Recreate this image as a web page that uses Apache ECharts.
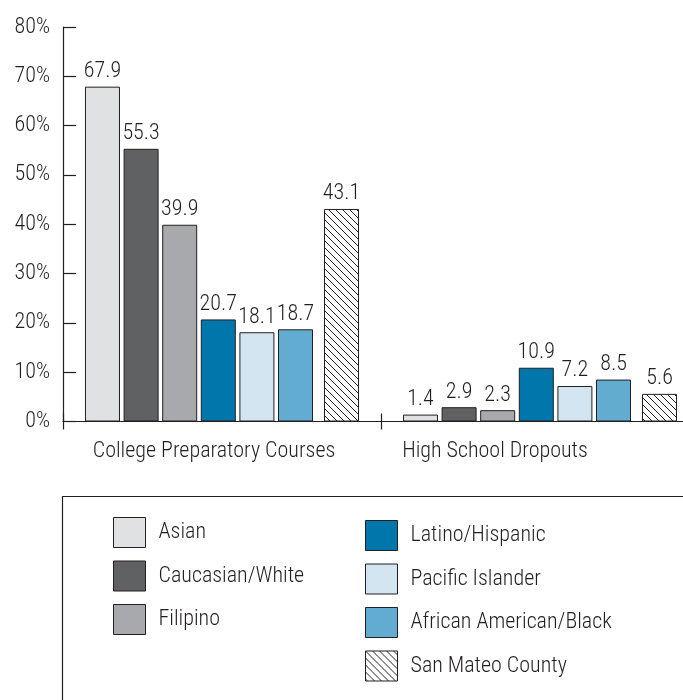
<!DOCTYPE html>
<html><head><meta charset="utf-8">
<script src="https://cdn.jsdelivr.net/npm/echarts@6/dist/echarts.min.js"></script>
<style>html,body{margin:0;padding:0;background:#fff}#c{width:683px;height:700px}</style>
</head><body><div id="c"></div>
<script>
const categories = ['College Preparatory Courses', 'High School Dropouts'];
const asian = [67.9, 1.4];
const caucasian = [55.3, 2.9];
const filipino = [39.9, 2.3];
const latino = [20.7, 10.9];
const pacific = [18.1, 7.2];
const african = [18.7, 8.5];
const sanMateo = [43.1, 5.6];
const seriesNames = ['Asian', 'Caucasian/White', 'Filipino', 'Latino/Hispanic', 'Pacific Islander', 'African American/Black', 'San Mateo County'];
const yMin = 0, yMax = 80, yStep = 10;

const FONT = "'Roboto Condensed', 'Liberation Sans', sans-serif";
const FS = 22;
const FW = 300;
const INK = '#231f20';

// hatch pattern
const pc = document.createElement('canvas');
pc.width = 7; pc.height = 7;
const g = pc.getContext('2d');
g.fillStyle = '#fff'; g.fillRect(0, 0, 7, 7);
g.strokeStyle = INK; g.lineWidth = 1;
g.beginPath();
g.moveTo(0, 0); g.lineTo(7, 7);
g.moveTo(-1, 6); g.lineTo(1, 8);
g.moveTo(6, -1); g.lineTo(8, 1);
g.stroke();
const hatch = { image: pc, repeat: 'repeat' };

const colors = ['#e0e1e3', '#606163', '#a7a9ac', '#0076ab', '#d3e5f1', '#63acd1', hatch];
const values = [asian, caucasian, filipino, latino, pacific, african, sanMateo];

const BW = 35, GAP = '10.3%';
function barSeries(i) {
  return {
    name: seriesNames[i], type: 'bar', data: values[i],
    barWidth: BW, barGap: GAP,
    itemStyle: { color: colors[i], borderColor: INK, borderWidth: 1 },
    label: { show: true, position: 'top', distance: 4, color: INK, fontFamily: FONT, fontSize: FS, fontWeight: FW,
      formatter: p => p.value.toFixed(1) },
    emphasis: { disabled: true }
  };
}
const series = [];
for (let i = 0; i < 6; i++) series.push(barSeries(i));
series.push({ name: 'spacer', type: 'bar', data: [null, null], barWidth: 6.7, barGap: GAP, silent: true });
series.push(barSeries(6));

const chart = echarts.init(document.getElementById('c'), null, { renderer: 'canvas' });
const legendCommon = {
  orient: 'vertical', icon: 'rect', itemWidth: 32, itemHeight: 30, itemGap: 12.5, padding: 0,
  textStyle: { fontFamily: FONT, fontSize: FS, fontWeight: FW, color: INK, padding: [0, 0, 0, 8] },
  selectedMode: false, itemStyle: { borderColor: INK, borderWidth: 1 }
};
chart.setOption({
  animation: false,
  backgroundColor: '#fff',
  grid: { left: 63, width: 636, top: 27, bottom: 278.5, containLabel: false, outerBoundsMode: 'none' },
  xAxis: [{
    type: 'category', data: categories, position: 'bottom',
    axisLine: { lineStyle: { color: INK, width: 1.2 } },
    axisTick: { show: true, length: 8, lineStyle: { color: INK, width: 1.2 } },
    axisLabel: {
      interval: 0, margin: 19, color: INK, fontFamily: FONT, fontSize: FS, fontWeight: FW,
      formatter: (v, i) => i === 0 ? '{a|' + v + '}' : '{b|' + v + '}',
      rich: {
        a: { fontFamily: FONT, fontSize: FS, fontWeight: FW, color: INK, padding: [0, 16, 0, 0] },
        b: { fontFamily: FONT, fontSize: FS, fontWeight: FW, color: INK, padding: [0, 90, 0, 0] }
      }
    }
  }, {
    type: 'category', data: categories, position: 'bottom', gridIndex: 0,
    axisLine: { show: false },
    axisTick: { show: true, inside: true, length: 8, lineStyle: { color: INK, width: 1.2 } },
    axisLabel: { show: false }
  }],
  yAxis: {
    type: 'value', min: yMin, max: yMax, interval: yStep,
    axisLine: { show: true, lineStyle: { color: INK, width: 1.2 } },
    axisTick: { show: true, inside: true, length: 13, lineStyle: { color: INK, width: 1.2 } },
    splitLine: { show: false },
    axisLabel: { margin: 13, color: INK, fontFamily: FONT, fontSize: FS, fontWeight: FW, formatter: '{value}%', padding: [0, 0, 4, 0] }
  },
  legend: [
    Object.assign({ left: 113, top: 517, data: seriesNames.slice(0, 3) }, legendCommon),
    Object.assign({ left: 365, top: 520, data: seriesNames.slice(3) }, legendCommon)
  ],
  graphic: [{
    type: 'rect', shape: { x: 62.5, y: 496.5, width: 700, height: 300 },
    style: { fill: 'none', stroke: INK, lineWidth: 1.2 }, silent: true
  }],
  series: series
});
</script></body></html>
